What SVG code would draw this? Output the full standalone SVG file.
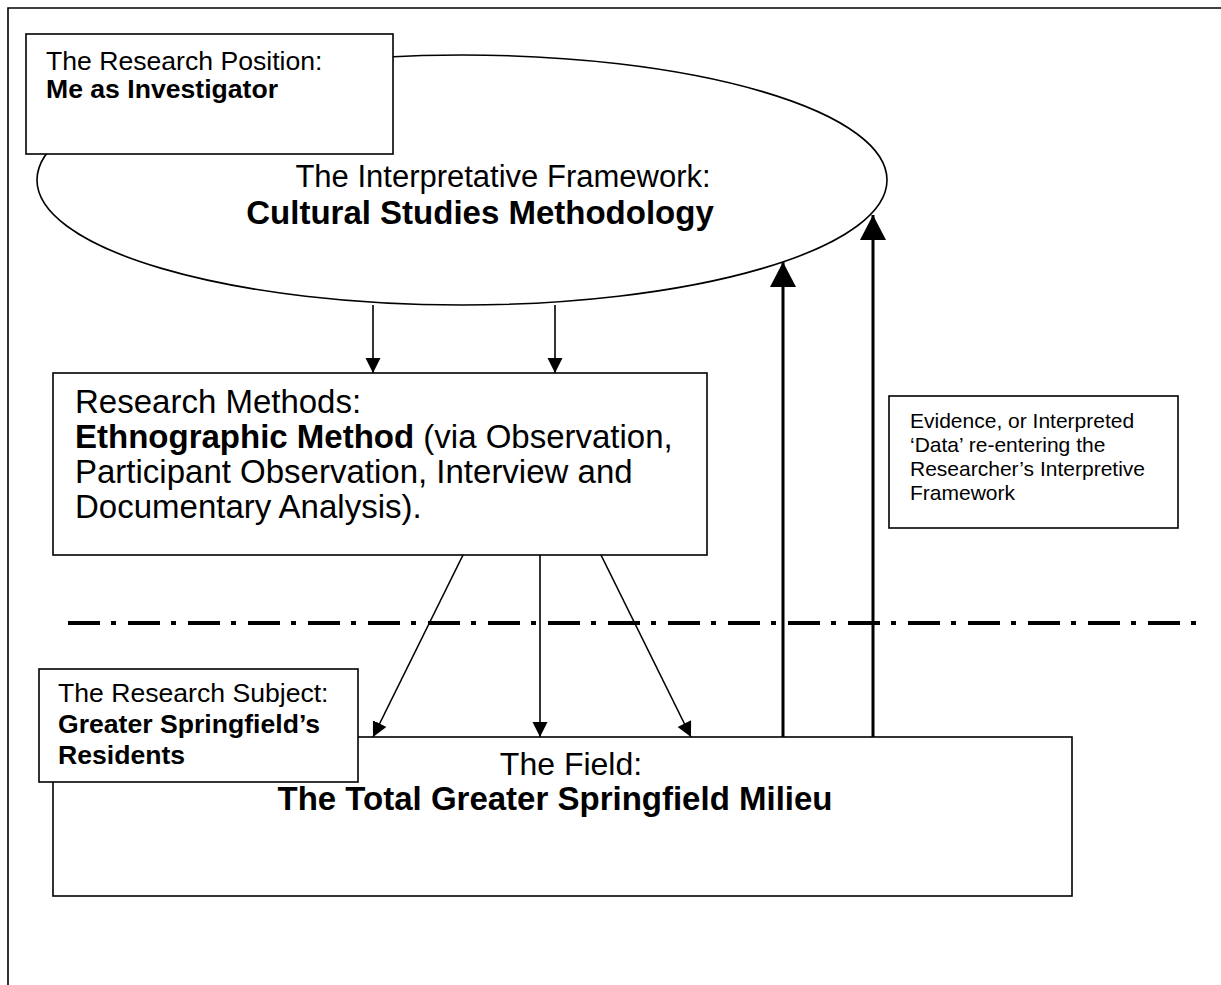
<svg xmlns="http://www.w3.org/2000/svg" width="1221" height="985" viewBox="0 0 1221 985">
<style>
.box{fill:#fff;stroke:#000;stroke-width:1.6}
.t{font-family:"Liberation Sans",Arial,sans-serif;fill:#000}
.big{font-size:33px}
.mid{font-size:26.6px}
.sm{font-size:21px}
.b{font-weight:bold}
.ln{stroke:#000;stroke-width:1.6;fill:none}
.lnb{stroke:#000;stroke-width:3;fill:none}
</style>
<defs>
<marker id="ah" markerUnits="userSpaceOnUse" markerWidth="16" markerHeight="16" refX="15" refY="7.5" orient="auto"><path d="M0,0 L15,7.5 L0,15 z" fill="#000"/></marker>
<marker id="ahb" markerUnits="userSpaceOnUse" markerWidth="26" markerHeight="27" refX="25" refY="13" orient="auto"><path d="M0,0 L25,13 L0,26 z" fill="#000"/></marker>
</defs>
<rect width="1221" height="985" fill="#fff"/>
<g id="frame"><path d="M8,985 L8,8 L1221,8" class="ln"/></g>
<g id="ellipse"><ellipse cx="462" cy="180" rx="425" ry="125" class="box"/>
<text class="t" font-size="31" x="503" y="187" text-anchor="middle">The Interpretative Framework:</text>
<text class="t b" font-size="33" x="480" y="224" text-anchor="middle">Cultural Studies Methodology</text></g>
<g id="position"><rect x="26" y="34" width="367" height="120" class="box"/>
<text class="t mid" x="46" y="70">The Research Position:</text>
<text class="t mid b" x="46" y="98">Me as Investigator</text></g>
<g id="methods"><rect x="53" y="373" width="654" height="182" class="box"/>
<text class="t big" x="75" y="413">Research Methods:</text>
<text class="t big" x="75" y="448"><tspan class="b">Ethnographic Method</tspan> (via Observation,</text>
<text class="t big" x="75" y="483">Participant Observation, Interview and</text>
<text class="t big" x="75" y="518">Documentary Analysis).</text></g>
<g id="evidence"><rect x="889" y="396" width="289" height="132" class="box"/>
<text class="t sm" x="910" y="428">Evidence, or Interpreted</text>
<text class="t sm" x="910" y="452">‘Data’ re-entering the</text>
<text class="t sm" x="910" y="476">Researcher’s Interpretive</text>
<text class="t sm" x="910" y="500">Framework</text></g>
<g id="divider"><line x1="68" y1="623" x2="1200" y2="623" stroke="#000" stroke-width="4" stroke-dasharray="32 11 5 12"/></g>
<g id="field"><rect x="53" y="737" width="1019" height="159" class="box" stroke-width="2"/>
<text class="t" font-size="32" x="571" y="775" text-anchor="middle">The Field:</text>
<text class="t big b" x="555" y="810" text-anchor="middle">The Total Greater Springfield Milieu</text></g>
<g id="subject"><rect x="39" y="669" width="319" height="113" class="box"/>
<text class="t mid" x="58" y="702">The Research Subject:</text>
<text class="t mid b" x="58" y="733">Greater Springfield’s</text>
<text class="t mid b" x="58" y="764">Residents</text></g>
<g id="connectors">
<line x1="373" y1="305" x2="373" y2="373" class="ln" marker-end="url(#ah)"/>
<line x1="555" y1="305" x2="555" y2="373" class="ln" marker-end="url(#ah)"/>
<line x1="463" y1="555" x2="373" y2="737" class="ln" marker-end="url(#ah)"/>
<line x1="540" y1="555" x2="540" y2="737" class="ln" marker-end="url(#ah)"/>
<line x1="601" y1="555" x2="691" y2="737" class="ln" marker-end="url(#ah)"/>
<line x1="783" y1="737" x2="783" y2="262" class="lnb" marker-end="url(#ahb)"/>
<line x1="873" y1="737" x2="873" y2="215" class="lnb" marker-end="url(#ahb)"/>
</g>
</svg>
